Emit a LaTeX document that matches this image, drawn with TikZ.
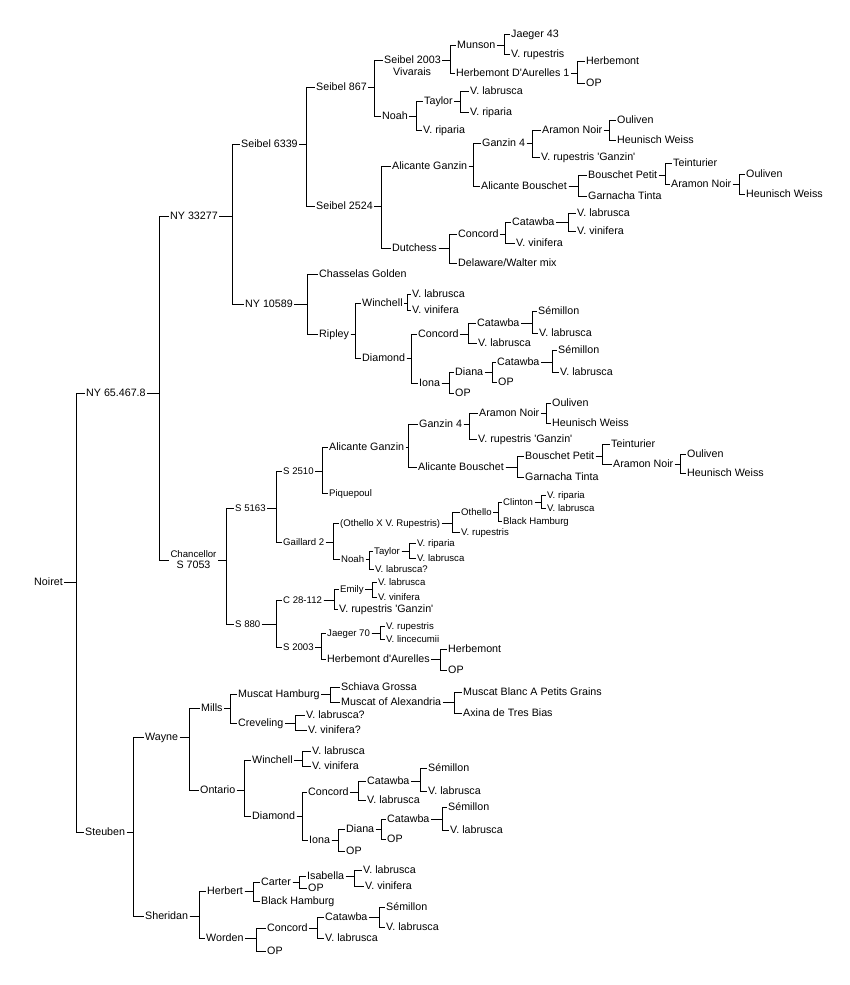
\documentclass[tikz,border=0pt]{standalone}
\usepackage{fontspec}
\setmainfont{Liberation Sans}[Ligatures=TeXOff]
\newcommand\pedfam[3]{%
  \coordinate (bxc) at (#2,0);
  \foreach \ch in {#3}{\draw[conn] (#1.east) -| (bxc |- \ch.west) -- (\ch.west);}}
\begin{document}
\begin{tikzpicture}[x=1pt,y=-1pt,
  lbl/.style={anchor=west,xshift=-1.5pt,inner xsep=1.5pt,inner ysep=0pt,font=\fontsize{10.7}{12}\selectfont,text height=7.7pt,text depth=1pt},
  sml/.style={lbl,font=\fontsize{9.6}{11}\selectfont,text height=6.9pt,text depth=0.9pt},
  conn/.style={draw=black,line width=1pt}]
\useasboundingbox (0,0) rectangle (850,985);
\fill[white] (0,0) rectangle (850,985);
% ---- top level
\node[lbl] (noiret) at (34,582) {Noiret};
\node[lbl] (ny65) at (86,393) {NY 65.467.8};
\node[lbl] (steuben) at (85,832) {Steuben};
\pedfam{noiret}{76.5}{ny65,steuben}
\node[lbl] (ny33) at (170,216) {NY 33277};
\node[anchor=center,inner sep=1.5pt,align=center,font=\fontsize{10.7}{11}\selectfont] (chanc) at (193.5,560) {{\fontsize{9.6}{11}\selectfont Chancellor}\\S 7053};
\pedfam{ny65}{159}{ny33,chanc}
% ---- NY 33277 branch
\node[lbl] (s6339) at (241,144) {Seibel 6339};
\node[lbl] (ny10589) at (245,304) {NY 10589};
\pedfam{ny33}{232.5}{s6339,ny10589}
\node[lbl] (s867) at (316,87) {Seibel 867};
\node[lbl] (s2524) at (316,206) {Seibel 2524};
\pedfam{s6339}{306.5}{s867,s2524}
\node[lbl] (s2003) at (384,60) {Seibel 2003};
\node[lbl] (vivarais) at (393,72) {Vivarais};
\node[lbl] (noah1) at (382,116) {Noah};
\pedfam{s867}{374}{s2003,noah1}
\node[lbl] (munson) at (457,45) {Munson};
\node[lbl] (herb1) at (456,73) {Herbemont D'Aurelles 1};
\pedfam{s2003}{450}{munson,herb1}
\node[lbl] (jaeger43) at (511,34) {Jaeger 43};
\node[lbl] (vrup1) at (511,54) {V. rupestris};
\pedfam{munson}{504}{jaeger43,vrup1}
\node[lbl] (herbemont1) at (586,61) {Herbemont};
\node[lbl] (op1) at (586,83) {OP};
\pedfam{herb1}{577}{herbemont1,op1}
\node[lbl] (taylor1) at (424,101) {Taylor};
\node[lbl] (vrip1) at (423,130) {V. riparia};
\pedfam{noah1}{416}{taylor1,vrip1}
\node[lbl] (vlab1) at (470,91) {V. labrusca};
\node[lbl] (vrip2) at (470,112) {V. riparia};
\pedfam{taylor1}{460}{vlab1,vrip2}
\node[lbl] (alg1) at (392,166) {Alicante Ganzin};
\node[lbl] (dutch) at (392,248) {Dutchess};
\pedfam{s2524}{381.5}{alg1,dutch}
\node[lbl] (ganzin4a) at (482,143) {Ganzin 4};
\node[lbl] (alb1) at (481,186) {Alicante Bouschet};
\pedfam{alg1}{473}{ganzin4a,alb1}
\node[lbl] (aramon1) at (542,130) {Aramon Noir};
\node[lbl] (vrupg1) at (541,157) {V. rupestris 'Ganzin'};
\pedfam{ganzin4a}{532}{aramon1,vrupg1}
\node[lbl] (ouliv1) at (617,120) {Ouliven};
\node[lbl] (heun1) at (617,140) {Heunisch Weiss};
\pedfam{aramon1}{609}{ouliv1,heun1}
\node[lbl] (bpetit1) at (588,175) {Bouschet Petit};
\node[lbl] (garn1) at (588,196) {Garnacha Tinta};
\pedfam{alb1}{578}{bpetit1,garn1}
\node[lbl] (teint1) at (673,163) {Teinturier};
\node[lbl] (aramon2) at (671,184) {Aramon Noir};
\pedfam{bpetit1}{665}{teint1,aramon2}
\node[lbl] (ouliv2) at (746,174) {Ouliven};
\node[lbl] (heun2) at (746,194) {Heunisch Weiss};
\pedfam{aramon2}{739}{ouliv2,heun2}
\node[lbl] (concord1) at (458,234) {Concord};
\node[lbl] (delaware) at (458,263) {Delaware/Walter mix};
\pedfam{dutch}{449}{concord1,delaware}
\node[lbl] (catawba1) at (512,222) {Catawba};
\node[lbl] (vvin1) at (516,243) {V. vinifera};
\pedfam{concord1}{505.5}{catawba1,vvin1}
\node[lbl] (vlab2) at (577,213) {V. labrusca};
\node[lbl] (vvin2) at (577,231) {V. vinifera};
\pedfam{catawba1}{568}{vlab2,vvin2}
% ---- NY 10589
\node[lbl] (chass) at (319,274) {Chasselas Golden};
\node[lbl] (ripley) at (319,334) {Ripley};
\pedfam{ny10589}{307}{chass,ripley}
\node[lbl] (winchell1) at (362,303) {Winchell};
\node[lbl] (diamond1) at (362,358) {Diamond};
\pedfam{ripley}{355}{winchell1,diamond1}
\node[lbl] (vlab3) at (412,294) {V. labrusca};
\node[lbl] (vvin3) at (412,310) {V. vinifera};
\pedfam{winchell1}{407.5}{vlab3,vvin3}
\node[lbl] (concord2) at (418,334) {Concord};
\node[lbl] (iona1) at (419,383) {Iona};
\pedfam{diamond1}{411}{concord2,iona1}
\node[lbl] (catawba2) at (477,323) {Catawba};
\node[lbl] (vlab4) at (478,343) {V. labrusca};
\pedfam{concord2}{468}{catawba2,vlab4}
\node[lbl] (sem1) at (538,311) {Sémillon};
\node[lbl] (vlab5) at (539,333) {V. labrusca};
\pedfam{catawba2}{532}{sem1,vlab5}
\node[lbl] (diana1) at (455,372) {Diana};
\node[lbl] (op2) at (455,393) {OP};
\pedfam{iona1}{449}{diana1,op2}
\node[lbl] (catawba3) at (497,362) {Catawba};
\node[lbl] (op3) at (498,382) {OP};
\pedfam{diana1}{492}{catawba3,op3}
\node[lbl] (sem2) at (558,350) {Sémillon};
\node[lbl] (vlab6) at (560,372) {V. labrusca};
\pedfam{catawba3}{552}{sem2,vlab6}
% ---- Chancellor branch
\node[sml] (s5163) at (235,508) {S 5163};
\node[sml] (s880) at (235,624) {S 880};
\pedfam{chanc}{226}{s5163,s880}
\node[sml] (s2510) at (283,471) {S 2510};
\node[sml] (gaillard) at (283,542) {Gaillard 2};
\pedfam{s5163}{276.5}{s2510,gaillard}
\node[lbl] (alg2) at (329,447) {Alicante Ganzin};
\node[sml] (piquepoul) at (329,493) {Piquepoul};
\pedfam{s2510}{322}{alg2,piquepoul}
\node[lbl] (ganzin4b) at (419,424) {Ganzin 4};
\node[lbl] (alb2) at (418,467) {Alicante Bouschet};
\pedfam{alg2}{408}{ganzin4b,alb2}
\node[lbl] (aramon3) at (479,413) {Aramon Noir};
\node[lbl] (vrupg2) at (478,439) {V. rupestris 'Ganzin'};
\pedfam{ganzin4b}{469}{aramon3,vrupg2}
\node[lbl] (ouliv3) at (552,403) {Ouliven};
\node[lbl] (heun3) at (552,423) {Heunisch Weiss};
\pedfam{aramon3}{546}{ouliv3,heun3}
\node[lbl] (bpetit2) at (525,456) {Bouschet Petit};
\node[lbl] (garn2) at (525,477) {Garnacha Tinta};
\pedfam{alb2}{517}{bpetit2,garn2}
\node[lbl] (teint2) at (611,444) {Teinturier};
\node[lbl] (aramon4) at (613,464) {Aramon Noir};
\pedfam{bpetit2}{602}{teint2,aramon4}
\node[lbl] (ouliv4) at (687,454) {Ouliven};
\node[lbl] (heun4) at (687,473) {Heunisch Weiss};
\pedfam{aramon4}{680}{ouliv4,heun4}
\node[sml] (othxr) at (340,523) {(Othello X V. Rupestris)};
\node[sml] (noah2) at (341,559) {Noah};
\pedfam{gaillard}{333}{othxr,noah2}
\node[sml] (othello) at (461,512) {Othello};
\node[sml] (vrup2) at (461,532) {V. rupestris};
\pedfam{othxr}{452.5}{othello,vrup2}
\node[sml] (clinton) at (503,502) {Clinton};
\node[sml] (bham1) at (503,521) {Black Hamburg};
\pedfam{othello}{498}{clinton,bham1}
\node[sml] (vrip3) at (547,495) {V. riparia};
\node[sml] (vlab7) at (547,508) {V. labrusca};
\pedfam{clinton}{541}{vrip3,vlab7}
\node[sml] (taylor2) at (374,551) {Taylor};
\node[sml] (vlabq1) at (375,569) {V. labrusca?};
\pedfam{noah2}{369}{taylor2,vlabq1}
\node[sml] (vrip4) at (417,543) {V. riparia};
\node[sml] (vlab8) at (417,558) {V. labrusca};
\pedfam{taylor2}{409}{vrip4,vlab8}
\node[sml] (c28) at (283,600) {C 28-112};
\node[sml] (s2003b) at (283,647) {S 2003};
\pedfam{s880}{276.5}{c28,s2003b}
\node[sml] (emily) at (340,589) {Emily};
\node[lbl] (vrupg3) at (339,609) {V. rupestris 'Ganzin'};
\pedfam{c28}{334}{emily,vrupg3}
\node[sml] (vlab9) at (378,582) {V. labrusca};
\node[sml] (vvin4) at (378,597) {V. vinifera};
\pedfam{emily}{372}{vlab9,vvin4}
\node[sml] (jaeger70) at (327,633) {Jaeger 70};
\node[lbl] (herbda) at (327,659) {Herbemont d'Aurelles};
\pedfam{s2003b}{321}{jaeger70,herbda}
\node[sml] (vrup3) at (386,626) {V. rupestris};
\node[sml] (vlinc) at (386,639) {V. lincecumii};
\pedfam{jaeger70}{380}{vrup3,vlinc}
\node[lbl] (herbemont2) at (448,649) {Herbemont};
\node[lbl] (op4) at (448,670) {OP};
\pedfam{herbda}{440}{herbemont2,op4}
% ---- Steuben branch
\node[lbl] (wayne) at (145,737) {Wayne};
\node[lbl] (sheridan) at (145,916) {Sheridan};
\pedfam{steuben}{133}{wayne,sheridan}
\node[lbl] (mills) at (201,708) {Mills};
\node[lbl] (ontario) at (200,790) {Ontario};
\pedfam{wayne}{189}{mills,ontario}
\node[lbl] (muscham) at (238,694) {Muscat Hamburg};
\node[lbl] (crev) at (238,723) {Creveling};
\pedfam{mills}{230}{muscham,crev}
\node[lbl] (schiava) at (341,687) {Schiava Grossa};
\node[lbl] (muscalex) at (341,702) {Muscat of Alexandria};
\pedfam{muscham}{330}{schiava,muscalex}
\node[lbl] (muscblanc) at (463,692) {Muscat Blanc A Petits Grains};
\node[lbl] (axina) at (463,713) {Axina de Tres Bias};
\pedfam{muscalex}{454}{muscblanc,axina}
\node[lbl] (vlabq2) at (306,715) {V. labrusca?};
\node[lbl] (vvinq) at (308,730) {V. vinifera?};
\pedfam{crev}{295}{vlabq2,vvinq}
\node[lbl] (winchell2) at (252,760) {Winchell};
\node[lbl] (diamond2) at (252,816) {Diamond};
\pedfam{ontario}{244}{winchell2,diamond2}
\node[lbl] (vlab10) at (312,751) {V. labrusca};
\node[lbl] (vvin5) at (312,766) {V. vinifera};
\pedfam{winchell2}{302}{vlab10,vvin5}
\node[lbl] (concord3) at (308,792) {Concord};
\node[lbl] (iona2) at (309,840) {Iona};
\pedfam{diamond2}{302}{concord3,iona2}
\node[lbl] (catawba4) at (367,781) {Catawba};
\node[lbl] (vlab11) at (367,800) {V. labrusca};
\pedfam{concord3}{358}{catawba4,vlab11}
\node[lbl] (sem3) at (428,768) {Sémillon};
\node[lbl] (vlab12) at (428,791) {V. labrusca};
\pedfam{catawba4}{420}{sem3,vlab12}
\node[lbl] (diana2) at (346,829) {Diana};
\node[lbl] (op5) at (346,851) {OP};
\pedfam{iona2}{338}{diana2,op5}
\node[lbl] (catawba5) at (387,819) {Catawba};
\node[lbl] (op6) at (387,839) {OP};
\pedfam{diana2}{381}{catawba5,op6}
\node[lbl] (sem4) at (448,807) {Sémillon};
\node[lbl] (vlab13) at (450,830) {V. labrusca};
\pedfam{catawba5}{442}{sem4,vlab13}
\node[lbl] (herbert) at (207,891) {Herbert};
\node[lbl] (worden) at (206,938) {Worden};
\pedfam{sheridan}{199}{herbert,worden}
\node[lbl] (carter) at (261,882) {Carter};
\node[lbl] (bham2) at (261,901) {Black Hamburg};
\pedfam{herbert}{253}{carter,bham2}
\node[lbl] (isabella) at (307,876) {Isabella};
\node[lbl] (op7) at (308,888) {OP};
\pedfam{carter}{299}{isabella,op7}
\node[lbl] (vlab14) at (363,870) {V. labrusca};
\node[lbl] (vvin6) at (365,886) {V. vinifera};
\pedfam{isabella}{354}{vlab14,vvin6}
\node[lbl] (concord4) at (267,928) {Concord};
\node[lbl] (op8) at (267,951) {OP};
\pedfam{worden}{256}{concord4,op8}
\node[lbl] (catawba6) at (325,917) {Catawba};
\node[lbl] (vlab15) at (325,938) {V. labrusca};
\pedfam{concord4}{317}{catawba6,vlab15}
\node[lbl] (sem5) at (386,907) {Sémillon};
\node[lbl] (vlab16) at (386,927) {V. labrusca};
\pedfam{catawba6}{379}{sem5,vlab16}
\end{tikzpicture}
\end{document}
